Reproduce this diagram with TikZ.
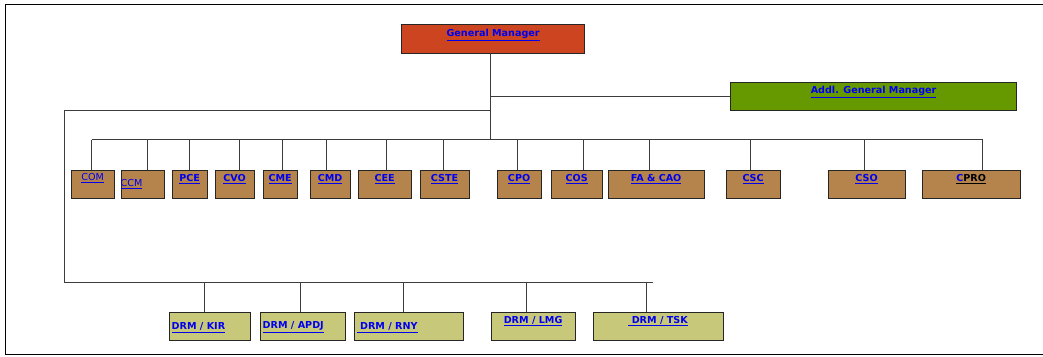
\documentclass[tikz,border=0pt]{standalone}
\usepackage{fontspec}
\setmainfont{DejaVu Sans}
\definecolor{gmfill}{RGB}{204,69,32}
\definecolor{agmfill}{RGB}{102,153,0}
\definecolor{brownfill}{RGB}{180,132,76}
\definecolor{drmfill}{RGB}{200,200,122}
\definecolor{linkblue}{RGB}{0,0,238}
\definecolor{linegray}{RGB}{60,60,60}
\newcommand\lnk[1]{\underline{#1}}
\begin{document}
\begin{tikzpicture}[x=1pt,y=-1pt,
  box/.style={draw=black!85, line width=1.2pt, rectangle, inner sep=0pt, anchor=north west},
  conn/.style={draw=linegray, line width=1.1pt},
  toptext/.style={anchor=north, inner sep=0pt, text=linkblue, font=\fontsize{9.6}{11}\selectfont\bfseries},
  lefttext/.style={anchor=west, inner sep=0pt, text=linkblue, font=\fontsize{9.6}{11}\selectfont\bfseries},
]
\useasboundingbox (0,0) rectangle (1043,356);
% outer frame
\draw[line width=1.8pt, black] (1043,4.5) -- (5.5,4.5) -- (5.5,354.5) -- (1043,354.5);

% top managers
\node[box, fill=gmfill, minimum width=183pt, minimum height=29pt] (gm) at (401,24) {};
\node[toptext] (gmt) at ([yshift=-5pt]gm.north) {\lnk{General Manager}};
\node[box, fill=agmfill, minimum width=286pt, minimum height=28pt] (agm) at (730,82) {};
\node[toptext] (agmt) at ([yshift=-4pt]agm.north) {\lnk{Addl. General Manager}};

% chief boxes
\foreach \n/\xa/\xb in {com/70.5/113.5, ccm/120.5/163.5, pce/171.5/206.5, cvo/214.5/253.5, cme/262.5/296.5, cmd/309.5/349.5, cee/357.5/410.5, cste/419.5/468.5, cpo/496.5/540.5, cos/550.5/601.5, fa/607.5/703.5, csc/725.5/779.5, cso/827.5/904.5, cpro/921.5/1019.5}{
  \pgfmathsetmacro\w{\xb-\xa}
  \node[box, fill=brownfill, minimum width=\w pt, minimum height=28.5pt] (\n) at (\xa,169.5) {};
}
\node[toptext, font=\fontsize{9.6}{11}\selectfont] (comt) at ([yshift=-3.5pt]com.north) {\lnk{COM}};
\node[anchor=west, inner sep=0pt, text=linkblue, font=\fontsize{9.6}{11}\selectfont] (ccmt) at ([yshift=-14.5pt]ccm.north west) {\lnk{CCM}};
\foreach \n/\t in {pce/PCE, cvo/CVO, cme/CME, cmd/CMD, cee/CEE, cste/CSTE, cpo/CPO, cos/COS, fa/FA \& CAO, csc/CSC, cso/CSO}{
  \node[toptext] at ([yshift=-4.5pt]\n.north) {\lnk{\t}};
}
\node[toptext, text=black] (cprot) at ([yshift=-4.5pt]cpro.north) {\lnk{\textcolor{linkblue}{C}PRO}};

% DRM boxes
\foreach \n/\xa/\xb in {kir/168.5/249.5, apdj/259.5/344.5, rny/353.5/462.5, lmg/490.5/574.5, tsk/592.5/722.5}{
  \pgfmathsetmacro\w{\xb-\xa}
  \node[box, fill=drmfill, minimum width=\w pt, minimum height=28.5pt] (\n) at (\xa,311.5) {};
}
\node[lefttext] at ([xshift=3pt,yshift=-1pt]kir.west) {\lnk{DRM / KIR}};
\node[lefttext] at ([xshift=3pt,yshift=-1pt]apdj.west) {\lnk{DRM / APDJ}};
\node[lefttext] at ([xshift=3pt,yshift=-1pt]rny.west) {\lnk{\ DRM / RNY}};
\node[toptext] at ([yshift=-4.5pt]lmg.north) {\lnk{DRM / LMG}};
\node[toptext] at ([yshift=-4.5pt]tsk.north) {\lnk{\ DRM / TSK}};

% connectors
\coordinate (trunk) at (490.5,53);
\coordinate (bus) at (490.5,139.5);
\coordinate (agmj) at (490.5,96.5);
\coordinate (leftj) at (490.5,110.5);
\coordinate (leftc) at (64.5,110.5);
\coordinate (lowc) at (64.5,282.5);
\coordinate (lowend) at (652.5,282.5);
\draw[conn] (trunk) -- (bus);
\draw[conn] (agmj) -- (agmj -| agm.west);
\draw[conn] (leftj) -- (leftc) -- (lowc) -- (lowend);
\draw[conn] (91.5,139.5) -- (982.5,139.5);
\foreach \n/\x in {com/91.5, ccm/147.5, pce/189.5, cvo/239.5, cme/282.5, cmd/326.5, cee/386.5, cste/443.5, cpo/517.5, cos/583.5, fa/649.5, csc/750.5, cso/864.5, cpro/982.5}{
  \coordinate (t) at (\x,139.5);
  \draw[conn] (t) -- (t |- \n.north);
}
\foreach \n/\x in {kir/204.5, apdj/300.5, rny/403.5, lmg/526.5, tsk/646.5}{
  \coordinate (t) at (\x,282.5);
  \draw[conn] (t) -- (t |- \n.north);
}
\end{tikzpicture}
\end{document}
